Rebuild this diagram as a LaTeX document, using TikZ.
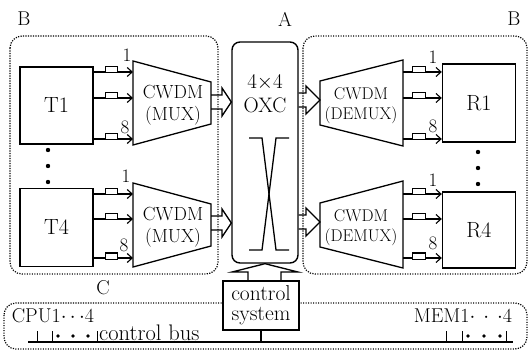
\documentclass[tikz,border=0pt]{standalone}
\usepackage{fontspec}
\usetikzlibrary{arrows.meta}
\begin{document}
\begin{tikzpicture}[x=1pt,y=-1pt,
  lw/.style={line width=1.3pt, line join=miter},
  dotbox/.style={line width=1.2pt, dash pattern=on 1.2pt off 1.3pt, rounded corners=12pt},
  blk/.style={draw, line width=1.4pt, fill=white, inner sep=0pt},
  sig/.style={line width=1.2pt, -{Straight Barb[length=5pt,width=9pt,line width=1.1pt]}},
  filt/.style={draw, line width=1pt, fill=white},
  lbl/.style={font=\fontsize{20}{22}\selectfont, inner sep=0pt},
  num/.style={font=\fontsize{19}{20}\selectfont, inner sep=0pt},
  muxt/.style={font=\fontsize{19}{20}\selectfont, inner sep=0pt},
  dmxt/.style={font=\fontsize{17}{18}\selectfont, inner sep=0pt},
  big/.style={font=\fontsize{22.5}{24}\selectfont, inner sep=0pt},
  vdot/.style={circle, fill, inner sep=0pt, minimum size=4.4pt},
  bdot/.style={circle, fill, inner sep=0pt, minimum size=3.8pt},
]
\useasboundingbox (0,0) rectangle (529,352);

% dotted regions
\draw[dotbox] (10,36) rectangle (218,274);
\draw[dotbox] (303,36) rectangle (527,274);
\draw[dotbox] (4,303) rectangle (527,349);

% region labels
\node[lbl] (lB1) at (24,19) {B};
\node[lbl] (lA) at (285,19) {A};
\node[lbl] (lB2) at (514,19) {B};
\node[lbl] (lC) at (103,288) {C};

% transmitters
\node[blk, minimum width=73pt, minimum height=77pt, font=\fontsize{22}{24}\selectfont] (T1) at (56.5,105.5) {T1};
\node[blk, minimum width=73pt, minimum height=78pt, font=\fontsize{22}{24}\selectfont] (T4) at (56.5,227.5) {T4};
\node[vdot] (td1) at (48,150) {};
\node[vdot] (td2) at (48,166) {};
\node[vdot] (td3) at (48,182) {};

% receivers
\node[blk, minimum width=73pt, minimum height=78pt, font=\fontsize{22}{24}\selectfont] (R1) at (479,103) {R1};
\node[blk, minimum width=73pt, minimum height=76pt, font=\fontsize{22}{24}\selectfont] (R4) at (479,230) {R4};
\node[vdot] (rd1) at (478,152) {};
\node[vdot] (rd2) at (478,168) {};
\node[vdot] (rd3) at (478,184) {};

% MUX trapezoids
\draw[lw] (133,61) -- (211,82) -- (211,124) -- (133,145) -- cycle;
\draw[lw] (133,183) -- (211,204) -- (211,246) -- (133,267) -- cycle;
\node[muxt] (mux1a) at (173,92) {CWDM};
\node[muxt] (mux1b) at (173,116) {(MUX)};
\node[muxt] (mux2a) at (173,214) {CWDM};
\node[muxt] (mux2b) at (173,238) {(MUX)};

% DEMUX trapezoids
\draw[lw] (320,81) -- (403,60) -- (403,146) -- (320,125) -- cycle;
\draw[lw] (320,203) -- (403,181) -- (403,268) -- (320,247) -- cycle;
\node[dmxt] (dmx1a) at (361,94) {CWDM};
\node[dmxt] (dmx1b) at (361,115) {(DEMUX)};
\node[dmxt] (dmx2a) at (361,216) {CWDM};
\node[dmxt] (dmx2b) at (361,237) {(DEMUX)};

% channel inputs / outputs
\foreach \y in {72,98,139} {
  \coordinate (mi) at (133,\y);
  \draw[sig] (T1.east |- mi) -- (mi);
  \draw[filt] (105,\y-5) rectangle (117,\y+1);
}
\foreach \y in {194,219,258} {
  \coordinate (mi) at (133,\y);
  \draw[sig] (T4.east |- mi) -- (mi);
  \draw[filt] (105,\y-5) rectangle (117,\y+1);
}
\foreach \y in {72,98,139} {
  \coordinate (mo) at (403,\y);
  \draw[sig] (mo) -- (R1.west |- mo);
  \draw[filt] (412,\y-5) rectangle (425,\y+1);
}
\foreach \y in {194,219,258} {
  \coordinate (mo) at (403,\y);
  \draw[sig] (mo) -- (R4.west |- mo);
  \draw[filt] (412,\y-5) rectangle (425,\y+1);
}
\node[num] (n1a) at (127,55) {1};
\node[num] (n8a) at (125,127) {8};
\node[num] (n1b) at (126,176) {1};
\node[num] (n8b) at (124,245) {8};
\node[num] (n1c) at (433,57) {1};
\node[num] (n8c) at (433,126) {8};
\node[num] (n1d) at (433,180) {1};
\node[num] (n8d) at (433,243) {8};

% OXC
\node[blk, rounded corners=8pt, minimum width=66pt, minimum height=221pt] (OXC) at (265,152.5) {};
\node[font=\fontsize{21}{22}\selectfont, inner sep=0pt] (oxa) at (265,82) {4$\times$4};
\node[font=\fontsize{21}{22}\selectfont, inner sep=0pt] (oxb) at (265,105) {OXC};
\draw[lw] (249,138) -- (262,138) -- (276,250) -- (289,250);
\draw[lw] (289,138) -- (276,138) -- (262,250) -- (249,250);

% block arrows MUX -> OXC
\draw[lw] (211,95) -- (222,95) -- (222,88) -- (OXC.west |- 0,102) -- (222,116) -- (222,109) -- (211,109);
\draw[lw] (211,216) -- (222,216) -- (222,209) -- (OXC.west |- 0,223) -- (222,237) -- (222,230) -- (211,230);
% block arrows OXC -> DEMUX
\draw[lw] (OXC.east |- 0,93) -- (306,93) -- (306,86) -- (320,100) -- (306,114) -- (306,107) -- (OXC.east |- 0,107);
\draw[lw] (OXC.east |- 0,215) -- (306,215) -- (306,208) -- (320,222) -- (306,236) -- (306,229) -- (OXC.east |- 0,229);

% control system
\node[blk, minimum width=76pt, minimum height=49pt] (ctl) at (261,305.5) {};
\node[font=\fontsize{21.5}{20}\selectfont, inner sep=0pt, align=center] (ctlt) at (261,305) {control\\system};
\draw[lw] (ctl.north -| 248,0) -- (248,272) -- (232,272) -- (OXC.south) -- (298,272) -- (281,272) -- (ctl.north -| 281,0);

% control bus
\coordinate (busL) at (28,342);
\coordinate (busR) at (513,342);
\draw[lw] (busL) -- (busR);
\draw[lw] (ctl.south) -- (ctl.south |- busL);
\foreach \x in {37,52,97,446,462,506} \draw[line width=1pt] (\x,331) -- (\x,342);
\foreach \x in {58,73,88,468,484,500} \node[bdot] at (\x,336) {};
\node[big, anchor=base west] (cbus) at (99,340) {control bus};
\node[lbl] (cpu) at (53,316) {CPU1$\cdots$4};
\node[lbl] (mem) at (463,316) {MEM1$\cdot\,\cdot\,\cdot$4};
\end{tikzpicture}
\end{document}
